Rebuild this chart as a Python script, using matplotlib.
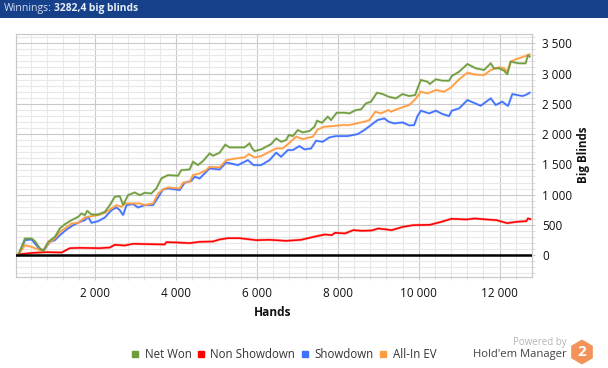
import matplotlib
matplotlib.use('Agg')
import matplotlib.pyplot as plt
from matplotlib.lines import Line2D
from matplotlib.patches import Circle, Rectangle, RegularPolygon
from matplotlib.ticker import FuncFormatter, MultipleLocator

plt.rcParams['font.family'] = ['Open Sans', 'DejaVu Sans']

# values
net_hands = [94, 177, 259, 424, 506, 630, 712, 836, 1000, 1123, 1247, 1412, 1576, 1659, 1741, 1798, 1905, 2070,
             2235, 2358, 2481, 2605, 2687, 2811, 2975, 3099, 3222, 3387, 3510, 3634, 3798, 4045, 4128, 4333, 4416,
             4539, 4663, 4827, 4910, 5074, 5214, 5321, 5486, 5691, 5815, 5881, 5938, 6103, 6226, 6350, 6473, 6597,
             6720, 6786, 6885, 7008, 7132, 7296, 7420, 7486, 7609, 7749, 7831, 7971, 8161, 8284, 8449, 8572, 8696,
             8819, 8967, 9107, 9255, 9436, 9600, 9765, 9913, 9970, 10053, 10217, 10275, 10423, 10588, 10752, 10818,
             11000, 11205, 11411, 11616, 11781, 11863, 11987, 12110, 12192, 12275, 12481, 12645, 12703, 12744]
net_won = [0, 138, 275, 275, 231, 110, 72, 220, 303, 441, 512, 579, 634, 689, 661, 733, 672, 672,
           716, 826, 964, 975, 830, 992, 1036, 992, 1030, 1020, 1102, 1267, 1323, 1312, 1405, 1416, 1543,
           1488, 1554, 1681, 1642, 1692, 1824, 1780, 1780, 1780, 1846, 1763, 1719, 1747, 1791, 1835, 1928, 1873,
           1901, 1984, 1967, 2066, 2028, 2050, 2121, 2220, 2187, 2287, 2232, 2353, 2353, 2342, 2397, 2408, 2507,
           2535, 2683, 2661, 2617, 2590, 2661, 2628, 2645, 2755, 2893, 2865, 2827, 2904, 2882, 2882, 2959,
           3030, 3157, 3086, 3058, 3168, 3086, 3086, 3047, 2986, 3196, 3168, 3168, 3306, 3278]

ns_hands = [136, 465, 794, 1165, 1370, 1617, 2111, 2358, 2481, 2728, 2934, 3345, 3716, 3757, 4004, 4333, 4580, 4909,
            5074, 5280, 5568, 5979, 6308, 6720, 7090, 7477, 7683, 7848, 7930, 8177, 8382, 8588, 8835, 9000, 9329,
            9617, 9864, 10275, 10563, 10810, 11181, 11386, 11675, 11921, 12185, 12415, 12662, 12703, 12761]
non_showdown = [17, 39, 50, 44, 116, 121, 116, 127, 171, 160, 188, 182, 177, 215, 210, 199, 221, 226,
                259, 281, 281, 248, 254, 237, 254, 314, 342, 331, 370, 359, 414, 403, 408, 441, 414,
                469, 496, 502, 551, 601, 590, 606, 590, 579, 529, 551, 562, 606, 595]

sd_hands = [95, 259, 424, 589, 712, 877, 1000, 1123, 1288, 1453, 1617, 1741, 1823, 1905, 2070, 2235, 2399, 2523,
            2605, 2687, 2770, 2934, 3058, 3222, 3428, 3552, 3675, 3798, 4087, 4210, 4375, 4457, 4580, 4827, 5074,
            5239, 5527, 5774, 5914, 6103, 6309, 6473, 6597, 6761, 6885, 7049, 7173, 7338, 7461, 7626, 7790, 7955,
            8243, 8490, 8654, 8819, 8984, 9148, 9255, 9394, 9600, 9765, 9888, 9970, 10053, 10258, 10423, 10588,
            10752, 10818, 11000, 11205, 11534, 11781, 11905, 12069, 12209, 12316, 12563, 12645, 12744]
showdown = [0, 248, 259, 126, 71, 220, 248, 330, 424, 496, 551, 578, 633, 534, 562, 622, 743, 788,
            743, 661, 826, 843, 788, 827, 827, 953, 1086, 1102, 1075, 1196, 1229, 1295, 1267, 1433, 1416,
            1532, 1488, 1570, 1488, 1488, 1570, 1692, 1625, 1736, 1736, 1802, 1747, 1763, 1890, 1873, 1945, 1967,
            1967, 2000, 2066, 2149, 2232, 2259, 2204, 2176, 2193, 2143, 2149, 2298, 2386, 2342, 2386, 2331,
            2298, 2386, 2424, 2562, 2468, 2590, 2480, 2535, 2463, 2661, 2628, 2645, 2683]

ev_hands = [54, 177, 259, 424, 589, 712, 836, 1000, 1123, 1247, 1412, 1576, 1741, 1905, 2070, 2235, 2399, 2523,
            2646, 2728, 2893, 3099, 3222, 3428, 3552, 3675, 3798, 4087, 4169, 4333, 4416, 4580, 4745, 4827, 5074,
            5239, 5486, 5691, 5798, 5938, 6103, 6309, 6473, 6638, 6786, 6967, 7132, 7379, 7502, 7667, 7873, 8120,
            8284, 8531, 8654, 8778, 8926, 9066, 9255, 9312, 9518, 9765, 9913, 10053, 10217, 10423, 10629,
            10794, 11000, 11205, 11411, 11616, 11781, 11987, 12110, 12192, 12275, 12398, 12645, 12744]
all_in_ev = [0, 82, 165, 137, 93, 71, 192, 275, 385, 440, 523, 534, 622, 644, 661, 699, 771, 826,
             799, 854, 854, 854, 827, 854, 1019, 1086, 1119, 1102, 1196, 1212, 1323, 1350, 1405, 1460, 1449,
             1570, 1598, 1615, 1670, 1614, 1636, 1708, 1763, 1763, 1846, 1956, 1917, 1956, 2077, 2121, 2132, 2149,
             2149, 2187, 2204, 2232, 2369, 2342, 2397, 2369, 2424, 2480, 2573, 2700, 2672, 2727, 2700,
             2766, 2904, 3014, 2981, 2975, 3058, 3102, 3086, 3030, 3196, 3234, 3290, 3317]

x_ticks = [2000, 4000, 6000, 8000, 10000, 12000]
y_ticks = [0, 500, 1000, 1500, 2000, 2500, 3000, 3500]
legend_names = ['Net Won', 'Non Showdown', 'Showdown', 'All-In EV']

GREEN = '#6f9c3d'
RED = '#ff0000'
BLUE = '#3f70ff'
ORANGE = '#ff9c40'
W, H = 608, 368

fig = plt.figure(figsize=(W / 100, H / 100), dpi=100)
ax = fig.add_axes([15.5 / W, 1 - 276.5 / H, 516 / W, 243 / H])

# halo under each line, the original looks slightly blurred
for hands, values, color, z in [(sd_hands, showdown, BLUE, 3), (ns_hands, non_showdown, RED, 3.1),
                                (ev_hands, all_in_ev, ORANGE, 3.2), (net_hands, net_won, GREEN, 3.3)]:
    ax.plot(hands, values, color=color, lw=2.0, alpha=0.25, zorder=z)
    ax.plot(hands, values, color=color, lw=1.15, zorder=z, solid_joinstyle='miter')

ax.axhline(0, color='black', lw=1.8, zorder=4)

ax.set_xlim(25, 12790)
ax.set_ylim(-352, 3661)
ax.set_xticks(x_ticks)
ax.set_yticks(y_ticks)
ax.xaxis.set_minor_locator(MultipleLocator(400))
ax.yaxis.set_minor_locator(MultipleLocator(100))
fmt = FuncFormatter(lambda v, pos: f'{v:,.0f}'.replace(',', ' '))
ax.xaxis.set_major_formatter(fmt)
ax.yaxis.set_major_formatter(fmt)
ax.yaxis.tick_right()
ax.yaxis.set_label_position('right')
ax.set_axisbelow(True)
ax.grid(which='major', color='#c9c9c9', lw=0.8)
ax.grid(which='minor', color='#e8e8e8', lw=0.8)
ax.tick_params(which='both', color='#c9c9c9', length=2.5, width=0.7, labelsize=8.5, pad=5, labelcolor='#111111')
ax.tick_params(which='minor', color='#dddddd')
for spine in ax.spines.values():
    spine.set_color('#c9c9c9')
    spine.set_linewidth(0.9)

fig.text(273 / W, 1 - 313 / H, 'Hands', fontsize=8.6, fontweight='bold', ha='center', va='center', color='#111111')
fig.text(583 / W, 1 - 155 / H, 'Big Blinds', fontsize=8.4, fontweight='bold', rotation=90,
         ha='center', va='center', color='#111111')

# header bar
fig.add_artist(Rectangle((0, 1 - 17.5 / H), 1, 17.5 / H, transform=fig.transFigure, color='#16418a', lw=0))
fig.text(4 / W, 1 - 9 / H, 'Winnings:', fontsize=7.6, color='#d5deee', va='center')
fig.text(54 / W, 1 - 9 / H, '3282,4 big blinds', fontsize=7.4, fontweight='bold', color='#e8eef8', va='center')
overlay = fig.add_axes([0, 0, 1, 1], facecolor='none')
overlay.set_xlim(0, W)
overlay.set_ylim(H, 0)
overlay.axis('off')
overlay.add_patch(Circle((599, 8), 6.3, color='#2b78a8', lw=0))
overlay.text(599, 8, '?', color='white', fontsize=7.5, fontweight='bold', ha='center', va='center')

# legend
handles = [Line2D([], [], ls='none', marker='s', ms=4.4, color=c) for c in (GREEN, RED, BLUE, ORANGE)]
fig.legend(handles, legend_names, loc='center left', bbox_to_anchor=(125 / W, 1 - 354.5 / H), ncol=4, frameon=False,
           fontsize=8.3, handlelength=0.7, handletextpad=0.5, columnspacing=0.45, borderpad=0, labelcolor='#333333')

# logo
overlay.add_patch(RegularPolygon((582, 352), 6, radius=12.5, color='#f3935a', lw=0))
overlay.text(582, 352, '2', color='white', fontsize=11, fontweight='bold', ha='center', va='center')
overlay.text(567, 342, 'Powered by', color='#b5b5b5', fontsize=7.0, ha='right', va='center')
overlay.text(567, 355, "Hold'em Manager", color='#444444', fontsize=8.1, ha='right', va='center')

fig.savefig('out.png', dpi=100)
